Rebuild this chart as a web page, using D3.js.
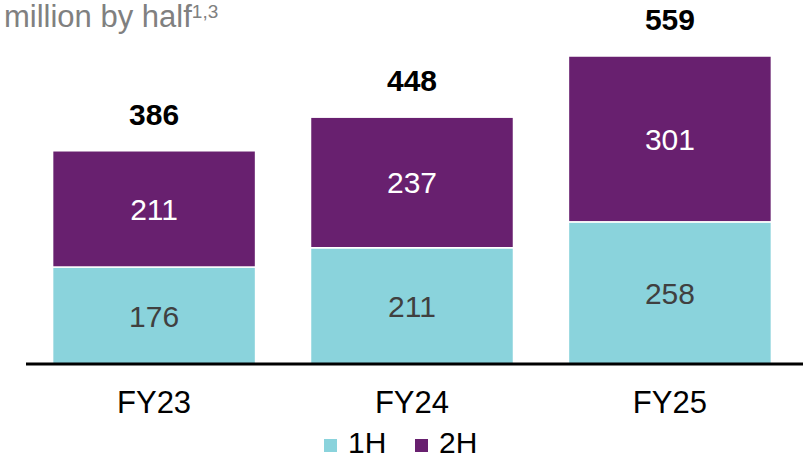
<!DOCTYPE html>
<html>
<head>
<meta charset="utf-8">
<script src="https://cdn.jsdelivr.net/npm/d3@7"></script>
<style>
  body { margin: 0; background: #fff; }
  svg { font-family: "Liberation Sans", Arial, sans-serif; }
</style>
</head>
<body>
<svg id="chart"></svg>
<script>
var years = ["FY23", "FY24", "FY25"]
var firstHalf = [176, 211, 258]
var secondHalf = [211, 237, 301]
var totals = [386, 448, 559]
var seriesNames = ["1H", "2H"]
var seriesColors = ["#8AD3DC", "#68206F"]

var width = 803
var height = 460
var baseY = 364

var svg = d3.select("#chart")
  .attr("width", width)
  .attr("height", height)

var x = d3.scaleBand()
  .domain(years)
  .range([1, 823])
  .paddingInner(0.213)
  .paddingOuter(0.2)

var y = d3.scaleLinear()
  .domain([0, 559])
  .range([baseY, 56])

var rows = years.map(function(yr, i) {
  return { year: yr, h1: firstHalf[i], h2: secondHalf[i], total: totals[i] }
})

var stack = d3.stack().keys(["h1", "h2"])(rows)

stack.forEach(function(layer, li) {
  svg.append("g")
    .selectAll("rect")
    .data(layer)
    .enter().append("rect")
    .attr("x", function(d) { return x(d.data.year) })
    .attr("y", function(d) { return y(d[1]) })
    .attr("width", x.bandwidth())
    .attr("height", function(d) { return y(d[0]) - y(d[1]) })
    .attr("fill", seriesColors[li])
    .attr("stroke", "#fff")
    .attr("stroke-width", 1.5)

  svg.append("g")
    .selectAll("text")
    .data(layer)
    .enter().append("text")
    .attr("x", function(d) { return x(d.data.year) + x.bandwidth() / 2 })
    .attr("y", function(d) { return (y(d[0]) + y(d[1])) / 2 + 11 })
    .attr("text-anchor", "middle")
    .attr("font-size", 30)
    .attr("fill", li === 0 ? "#404040" : "#fff")
    .text(function(d) { return d[1] - d[0] })
})

// totals
svg.append("g")
  .selectAll("text")
  .data(rows)
  .enter().append("text")
  .attr("x", function(d) { return x(d.year) + x.bandwidth() / 2 })
  .attr("y", function(d) { return y(d.total) - 26 })
  .attr("text-anchor", "middle")
  .attr("font-size", 30)
  .attr("font-weight", "bold")
  .attr("fill", "#000")
  .text(function(d) { return d.total })

// baseline
svg.append("line")
  .attr("x1", 26)
  .attr("x2", 803)
  .attr("y1", baseY)
  .attr("y2", baseY)
  .attr("stroke", "#000")
  .attr("stroke-width", 3)

// category labels
svg.append("g")
  .selectAll("text")
  .data(years)
  .enter().append("text")
  .attr("x", function(d) { return x(d) + x.bandwidth() / 2 })
  .attr("y", 413)
  .attr("text-anchor", "middle")
  .attr("font-size", 31)
  .attr("fill", "#000")
  .text(function(d) { return d })

// title
var title = svg.append("text")
  .attr("x", 4)
  .attr("y", 27)
  .attr("font-size", 31)
  .attr("fill", "#808080")
title.append("tspan").text("million by half")
title.append("tspan")
  .attr("dy", -9)
  .attr("font-size", 19)
  .text("1,3")

// legend
var legend = svg.append("g")
  .selectAll("g")
  .data(seriesNames)
  .enter().append("g")
  .attr("transform", function(d, i) { return "translate(" + (324 + i * 91) + ",439)" })

legend.append("rect")
  .attr("width", 13)
  .attr("height", 13)
  .attr("fill", function(d, i) { return seriesColors[i] })

legend.append("text")
  .attr("x", 24)
  .attr("y", 14)
  .attr("font-size", 30)
  .attr("fill", "#000")
  .text(function(d) { return d })
</script>
</body>
</html>
